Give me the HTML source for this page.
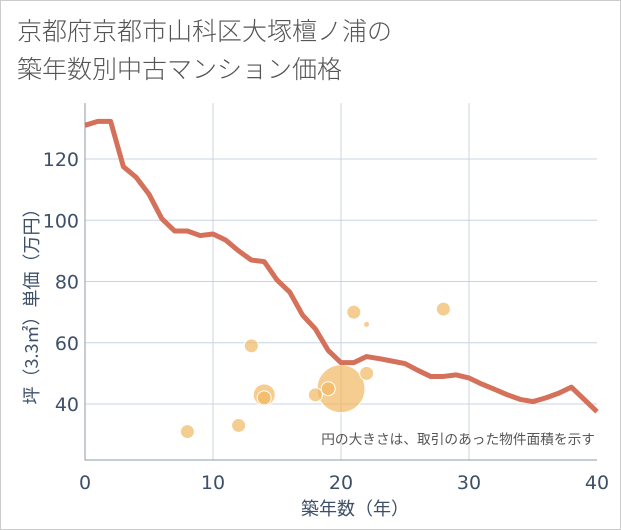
<!DOCTYPE html>
<html><head><meta charset="utf-8"><style>
body{margin:0;background:#fff;font-family:"Liberation Sans","Noto Sans CJK JP",sans-serif}
#wrap{position:relative;width:619px;height:528px;border:1px solid #ccc;background:#fff}
.t{position:absolute;left:16px;color:#555;font-size:25px;font-weight:300;font-family:"Noto Sans CJK JP",sans-serif;line-height:34px}
</style></head><body>
<div id="wrap">
<div class="t" style="top:12px">京都府京都市山科区大塚檀ノ浦の</div>
<div class="t" style="top:50px">築年数別中古マンション価格</div>
<svg id="c" width="621" height="530" style="position:absolute;left:-1px;top:-1px"></svg>
</div>
<script>
const lineYears=[0,1,2,3,4,5,6,7,8,9,10,11,12,13,14,15,16,17,18,19,20,21,22,23,24,25,26,27,28,29,30,31,32,33,34,35,36,37,38,39,40];
const lineValues=[131,132.3,132.3,117.5,114,108.5,100.5,96.5,96.5,95,95.5,93.5,90,87,86.5,80.5,76.5,69,64.5,57.5,53.5,53.5,55.5,54.8,54,53.2,51,49,49,49.5,48.5,46.5,44.8,43,41.5,40.8,42,43.5,45.5,41.5,37.5];
const bubbleYears=[20,14,8,12,13,14,18,19,21,22,22,28];
const bubbleValues=[45,43,31,33,59,42,43,45,70,66,50,71];
const bubbleSizes=[24,11,7,7,7,7,7,7,7,3,7,7];
const xTicks=[0,10,20,30,40];
const yTicks=[40,60,80,100,120];
const NS="http://www.w3.org/2000/svg";
const svg=document.getElementById('c');
const L=85,R=597,T=103,B=460;
const xs=v=>L+(v-0)/40*(R-L);
const ys=v=>404-(v-40)*3.0625;
function el(tag,at,parent){const e=document.createElementNS(NS,tag);for(const k in at)e.setAttribute(k,at[k]);(parent||svg).appendChild(e);return e;}
yTicks.forEach(v=>{const g=el('line',{x1:L,x2:R,y1:ys(v),y2:ys(v),stroke:'#c8d4e0','stroke-width':1});


const t=el('text',{x:L-6,y:ys(v)+7,'text-anchor':'end','font-size':19,fill:'#3d5068','font-family':'DejaVu Sans,sans-serif'});t.textContent=v;

});
xTicks.forEach(v=>{if(v>0&&v<40){const g=el('line',{x1:xs(v),x2:xs(v),y1:T,y2:B,stroke:'#c8d4e0','stroke-width':1});

}
const t=el('text',{x:xs(v),y:489,'text-anchor':'middle','font-size':19,fill:'#3d5068','font-family':'DejaVu Sans,sans-serif'});t.textContent=v;

});
const ax=el('path',{d:`M${L} ${T}V${B}H${R}`,fill:'none',stroke:'#8a9aaa','stroke-width':1});


bubbleYears.forEach((y,i)=>{const c=el('circle',{cx:xs(y),cy:ys(bubbleValues[i]),r:bubbleSizes[i],fill:'#f2b861','fill-opacity':0.7,stroke:'#fff','stroke-width':1});

});
const p=el('polyline',{points:lineYears.map((y,i)=>xs(y)+','+ys(lineValues[i])).join(' '),fill:'none',stroke:'#d5705a','stroke-width':5,'stroke-linejoin':'round'});


const n=el('text',{x:595,y:444,'text-anchor':'end','font-size':13.7,fill:'#555','font-family':'Noto Sans CJK JP,sans-serif'});n.textContent='円の大きさは、取引のあった物件面積を示す';


const xt=el('text',{x:355,y:515,'text-anchor':'middle','font-size':18,fill:'#3d5068','font-family':'Noto Sans CJK JP,sans-serif'});xt.textContent='築年数（年）';


const yt=el('text',{x:0,y:0,'text-anchor':'middle','font-size':18,fill:'#3d5068','font-family':'Noto Sans CJK JP,sans-serif',transform:'translate(38,302) rotate(-90)'});yt.textContent='坪（3.3㎡）単価（万円）';


</script>
</body></html>
